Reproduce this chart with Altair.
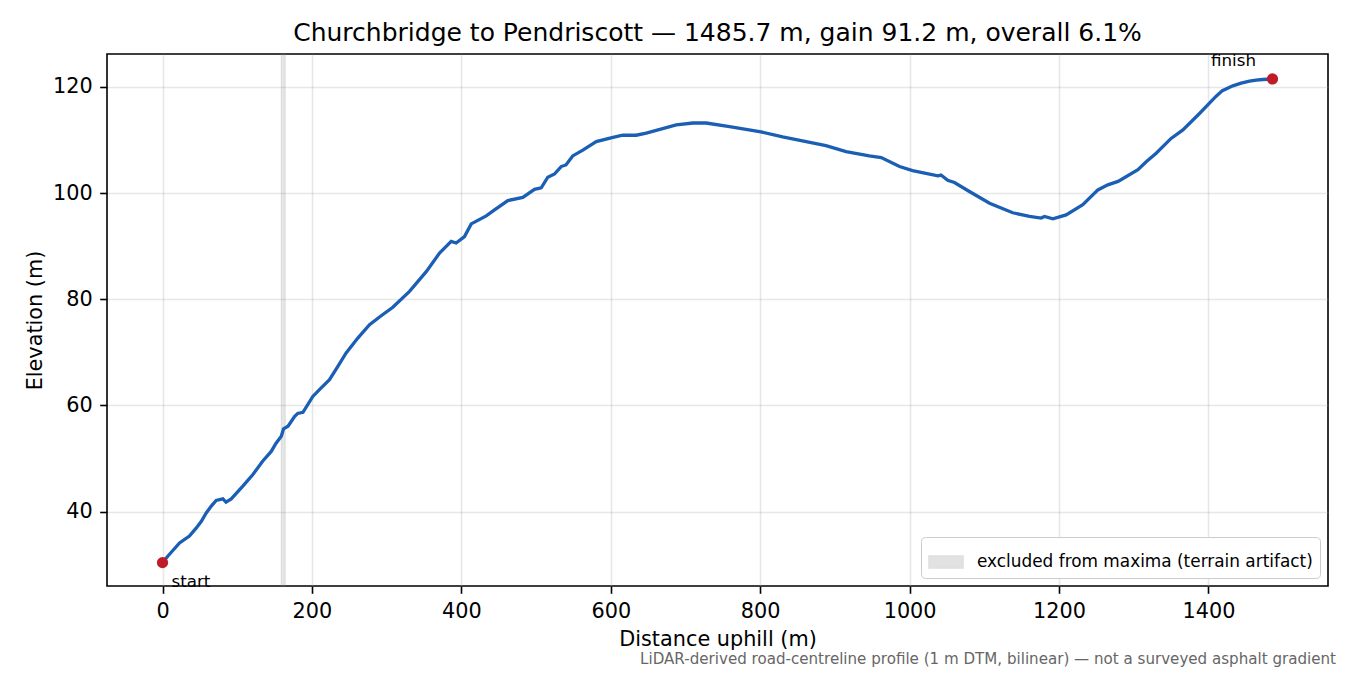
import altair as alt
import pandas as pd

# profile (distance uphill in m, elevation in m)
dist = [0, 7, 22.8, 36, 45, 52, 58.5, 65, 71.8, 80.8, 85, 92, 107.5, 121, 134,
        145.5, 152, 159, 162, 168, 176.7, 181, 188, 201.2, 210.1, 223.5, 234.7,
        245.8, 261.4, 277.1, 292.7, 308.3, 330.6, 353, 370.8, 386.4, 393, 404.2,
        413.2, 433.3, 444.4, 462.2, 482.3, 497.9, 506.9, 515.7, 524.7, 533.6, 540,
        549, 562.6, 571.5, 580.5, 603, 616, 634, 647.5, 687.6, 710, 727.7, 759,
        799, 830, 888, 915, 946, 962, 986.5, 1004, 1037.8, 1042, 1051, 1060, 1080,
        1107, 1138, 1160.5, 1176, 1180.6, 1191.7, 1209.5, 1231.8, 1252, 1265.3, 1279,
        1305.6, 1316.7, 1330, 1350, 1365.8, 1388, 1410, 1418.6, 1432.6, 1443.8, 1455,
        1463.8, 1472.8, 1485.7]
elev = [30.4, 31.6, 34.1, 35.4, 36.9, 38.2, 39.75, 41.0, 42.1, 42.4, 41.8, 42.4,
        44.8, 47.0, 49.5, 51.35, 52.9, 54.2, 55.6, 56.1, 57.9, 58.5, 58.7, 61.7,
        63.0, 64.85, 67.35, 69.9, 72.7, 75.2, 76.9, 78.5, 81.5, 85.2, 88.7, 90.9,
        90.6, 91.8, 94.2, 95.7, 96.85, 98.6, 99.2, 100.7, 101.0, 103.0, 103.6,
        105.0, 105.3, 107.0, 108.1, 108.9, 109.7, 110.5, 110.9, 110.9, 111.3,
        112.85, 113.2, 113.2, 112.5, 111.6, 110.6, 108.95, 107.8, 107.0, 106.7,
        105.0, 104.25, 103.25, 103.4, 102.4, 102.0, 100.3, 98.1, 96.3, 95.6, 95.3,
        95.6, 95.15, 95.9, 97.8, 100.6, 101.55, 102.2, 104.4, 105.9, 107.5, 110.3,
        111.9, 115.0, 118.2, 119.3, 120.2, 120.7, 121.1, 121.3, 121.4, 121.5]

end_names = ["start", "finish"]
end_dist = [0, 1485.7]
end_elev = [30.4, 121.5]

band_start = [158.9]
band_end = [164.2]
band_label = ["excluded from maxima (terrain artifact)"]

title_text = "Churchbridge to Pendriscott \u2014 1485.7 m, gain 91.2 m, overall 6.1%"
footer_text = ("LiDAR-derived road-centreline profile (1 m DTM, bilinear) "
               "\u2014 not a surveyed asphalt gradient")

FONT = "DejaVu Sans"
W, H = 1221, 532

profile = pd.DataFrame({"dist": dist, "elev": elev})
ends = pd.DataFrame({"name": end_names, "dist": end_dist, "elev": end_elev})
band_df = pd.DataFrame({"start": band_start, "end": band_end, "label": band_label})

x_scale = alt.Scale(domain=[-74.3, 1560], nice=False, zero=False)
y_scale = alt.Scale(domain=[26.0, 126.2], nice=False, zero=False)
x_axis = alt.Axis(title="Distance uphill (m)", values=[0, 200, 400, 600, 800, 1000, 1200, 1400],
                  format="d", titleX=W / 2, titleY=59.3, titleBaseline="alphabetic",
                  titleAlign="center")
y_axis = alt.Axis(title="Elevation (m)", values=[40, 60, 80, 100, 120], format="d",
                  titleX=-65.3, titleY=H / 2, titleBaseline="alphabetic", titleAlign="center",
                  titleAngle=270)

band = alt.Chart(band_df).mark_rect(
    fillOpacity=0.2, stroke="#808080", strokeOpacity=0.2, strokeWidth=1
).encode(
    x=alt.X("start:Q", scale=x_scale, axis=x_axis),
    x2="end:Q",
    color=alt.Color("label:N", scale=alt.Scale(range=["#808080"]),
                    legend=alt.Legend(title=None, orient="bottom-right", offset=8,
                                      symbolType="M-1,-0.35H1V0.35H-1Z", symbolSize=1156,
                                      symbolOpacity=0.22, symbolStrokeColor="#707070",
                                      symbolStrokeWidth=1.5, labelOffset=13,
                                      labelFontSize=16.9, labelFont=FONT, labelColor="black",
                                      labelLimit=600, padding=7, fillColor="white",
                                      strokeColor="#cccccc", cornerRadius=4)),
)

line = alt.Chart(profile).mark_line(color="#1a5fb4", strokeWidth=3.3).encode(
    x=alt.X("dist:Q", scale=x_scale, axis=x_axis),
    y=alt.Y("elev:Q", scale=y_scale, axis=y_axis),
    order="dist:Q",
)

dots = alt.Chart(ends).mark_circle(color="#c01c28", opacity=1, size=127).encode(
    x=alt.X("dist:Q", scale=x_scale, axis=x_axis),
    y=alt.Y("elev:Q", scale=y_scale, axis=y_axis),
)

start_lbl = alt.Chart(ends).transform_filter(alt.datum.name == "start").mark_text(
    align="left", baseline="alphabetic", dx=9, dy=24.7, fontSize=16.7, font=FONT, color="black"
).encode(
    x=alt.X("dist:Q", scale=x_scale, axis=x_axis),
    y=alt.Y("elev:Q", scale=y_scale, axis=y_axis),
    text="name:N",
)

finish_lbl = alt.Chart(ends).transform_filter(alt.datum.name == "finish").mark_text(
    align="center", baseline="alphabetic", dx=-39, dy=-12.6, fontSize=16.7, font=FONT, color="black"
).encode(
    x=alt.X("dist:Q", scale=x_scale, axis=x_axis),
    y=alt.Y("elev:Q", scale=y_scale, axis=y_axis),
    text="name:N",
)

footer = alt.Chart(pd.DataFrame({"note": [footer_text]})).mark_text(
    align="right", baseline="alphabetic", fontSize=15.1, font=FONT, color="#666666"
).encode(
    x=alt.value(1229), y=alt.value(610), text="note:N",
)

chart = alt.layer(band, line, dots, start_lbl, finish_lbl, footer).properties(
    width=W,
    height=H,
    autosize="none",
    padding={"left": 99, "top": 46, "right": 14, "bottom": 81},
    title=alt.TitleParams(title_text, fontSize=25, font=FONT, fontWeight="normal",
                          color="black", anchor="middle", baseline="alphabetic",
                          offset=12, dy=25),
).configure_view(
    stroke="black", strokeWidth=1.6
).configure_axis(
    labelFont=FONT, labelFontSize=20.8, labelColor="black",
    titleFont=FONT, titleFontSize=20.8, titleColor="black", titleFontWeight="normal",
    tickColor="black", tickWidth=1.6, tickSize=7.3,
    domain=False, grid=True, gridColor="#b0b0b0", gridOpacity=0.3, gridWidth=1.6,
).configure_axisX(
    labelPadding=8
).configure_axisY(
    labelPadding=7.5
)

chart.save("out.html", embed_options={"renderer": "svg", "actions": False})
